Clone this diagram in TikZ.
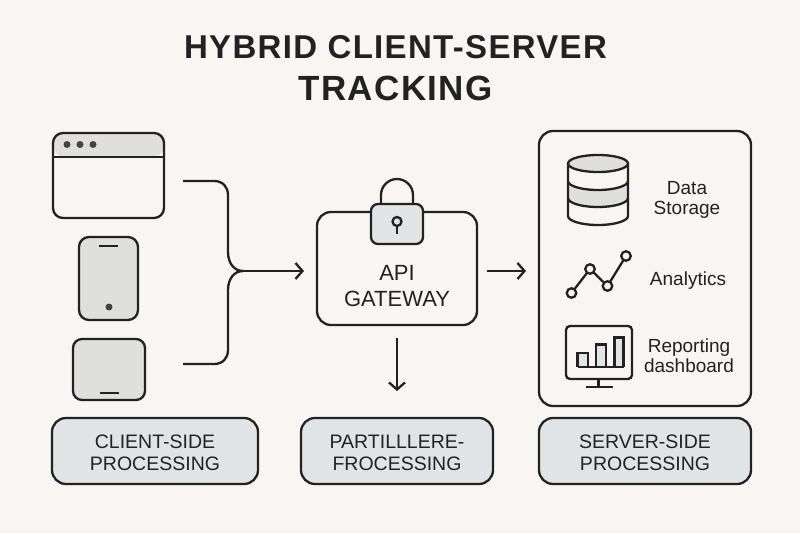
\documentclass[tikz,border=0pt]{standalone}
\usepackage{fontspec}
\setmainfont{Liberation Sans}
\usetikzlibrary{arrows.meta}
\definecolor{bgc}{HTML}{F8F6F3}
\definecolor{ink}{HTML}{222222}
\definecolor{gfill}{HTML}{DFE0DE}
\definecolor{bfill}{HTML}{E1E4E5}
\newcommand{\capstrut}{\rule{0pt}{18pt}}
\tikzset{
  every node/.style={text=ink,inner sep=0pt,outer sep=0pt},
  ln/.style={draw=ink,line width=2.3pt},
  rbox/.style={ln,rounded corners=#1,shape=rectangle},
  rbox/.default=12pt,
  conn/.style={draw=ink,line width=2.3pt,line join=round},
  flow/.style={conn,-{Straight Barb[length=7pt,width=16pt,line width=2.3pt]}},
  capbox/.style={rbox=14pt,fill=bfill,align=center,font=\fontsize{19.5}{22}\selectfont,minimum height=66pt},
  lab/.style={align=center,font=\fontsize{19}{20}\selectfont},
  dotc/.style={circle,fill=ink!85,minimum size=#1},
}
\begin{document}
\begin{tikzpicture}[x=1pt,y=-1pt]
\useasboundingbox[fill=bgc] (0,0) rectangle (800,533);
% title
\node (t1) at (395.5,47.5) {\fontsize{33}{33}\selectfont\bfseries\addfontfeature{LetterSpace=4}HYBRID CLIENT-SERVER};
\node (t2) at (395.5,88.5) {\fontsize{35}{35}\selectfont\bfseries\addfontfeature{LetterSpace=4}TRACKING};
% browser
\filldraw[gfill,rounded corners=12pt] (53,157) -- (53,133) -- (164,133) -- (164,157) -- cycle;
\node[rbox=10pt,minimum width=111pt,minimum height=85pt] (browser) at (108.5,175.5) {};
\draw[ln] (browser.west |- 0,157) -- (browser.east |- 0,157);
\node[dotc=7pt] (d1) at (67,144.5) {};
\node[dotc=7pt] (d2) at (80,144.5) {};
\node[dotc=7pt] (d3) at (93,144.5) {};
% phone
\node[rbox=10pt,fill=gfill,minimum width=59pt,minimum height=83pt] (phone) at (108.5,278.5) {};
\draw[ln] (99,246) -- (118,246);
\node[dotc=7pt] (pd) at (109,307) {};
% tablet
\node[rbox=9pt,fill=gfill,minimum width=72pt,minimum height=61pt] (tablet) at (109,369.5) {};
\draw[ln] (99.5,393) -- (119,393);
% bracket
\coordinate (bt) at (183,181);
\coordinate (bb) at (183,364);
\coordinate (bm) at (243,271);
\coordinate (bar) at (304,271);
\draw[conn] (bt) -- (214,181) .. controls (223,181) and (228,187) .. (228,195) -- (228,252) .. controls (228,263) and (234,271) .. (bm);
\draw[conn] (bb) -- (214,364) .. controls (223,364) and (228,358) .. (228,350) -- (228,290) .. controls (228,279) and (234,271) .. (bm);
\draw[flow] (bm) -- (bar);
% gateway
\node[rbox=14pt,minimum width=160pt,minimum height=113pt] (api) at (397,268.5) {};
\draw[ln] (381,204) -- (381,195) arc[start angle=180,end angle=0,radius=16pt] -- (413,204);
\node[rbox=7pt,fill=bfill,minimum width=52pt,minimum height=40pt] (lock) at (397,224) {};
\draw[ln] (397,226) -- (397,234);
\node[circle,draw=ink,line width=2.3pt,fill=bfill,minimum size=9pt] (kh) at (397,221.5) {};
\node[align=center,font=\fontsize{22}{26}\selectfont] (apit) at (397,286) {API\\GATEWAY};
% arrows
\coordinate (ar1) at (487,271);
\coordinate (ar2) at (526,271);
\coordinate (ad1) at (397,338);
\coordinate (ad2) at (397,391);
\draw[flow] (ar1) -- (ar2);
\draw[flow] (ad1) -- (ad2);
% server box
\node[rbox=14pt,minimum width=212pt,minimum height=275pt] (server) at (645,268.5) {};
% database
\fill[gfill] (568,181) arc[start angle=180,end angle=360,x radius=30pt,y radius=9pt] -- (628,198) arc[start angle=0,end angle=-180,x radius=30pt,y radius=9pt] -- cycle;
\draw[ln,fill=gfill] (598,163.5) ellipse[x radius=30pt,y radius=8.5pt];
\draw[ln] (568,163.5) -- (568,216) arc[start angle=180,end angle=360,x radius=30pt,y radius=9pt] -- (628,163.5);
\draw[ln] (568,181) arc[start angle=180,end angle=360,x radius=30pt,y radius=9pt];
\draw[ln] (568,198) arc[start angle=180,end angle=360,x radius=30pt,y radius=9pt];
\node[lab] (ds) at (687,199.5) {Data\\Storage};
% analytics
\foreach \n/\p in {a/{571.5,293},b/{590,269},c/{607.5,286},e/{626,256}}
  \node[circle,draw=ink,line width=2.3pt,minimum size=9.5pt] (\n) at (\p) {};
\draw[ln] (a) -- (b);
\draw[ln] (b) -- (c);
\draw[ln] (c) -- (e);
\node[lab] (an) at (688,280.5) {Analytics};
% monitor
\draw[ln] (598.5,379) -- (598.5,387);
\draw[ln] (586,387) -- (613,387);
\node[rbox=4pt,minimum width=66pt,minimum height=53pt] (mon) at (599,352.5) {};
\draw[ln,fill=bfill] (577.5,367) -- (577.5,353) -- (588,353) -- (588,367);
\draw[ln,fill=bfill] (596,367) -- (596,344.5) -- (606,344.5) -- (606,367);
\draw[ln,fill=bfill] (614.5,367) -- (614.5,337.5) -- (623.5,337.5) -- (623.5,367);
\draw[ln] (577.5,367) -- (623.5,367);
\node[lab] (rd) at (689,356) {Reporting\\dashboard};
% captions
\node[capbox,minimum width=206pt] (c1) at (155,451) {\capstrut CLIENT-SIDE\\PROCESSING};
\node[capbox,minimum width=192pt] (c2) at (397,451) {\capstrut PARTILLLERE-\\FROCESSING};
\node[capbox,minimum width=212pt] (c3) at (645,451) {\capstrut SERVER-SIDE\\PROCESSING};
\end{tikzpicture}
\end{document}
